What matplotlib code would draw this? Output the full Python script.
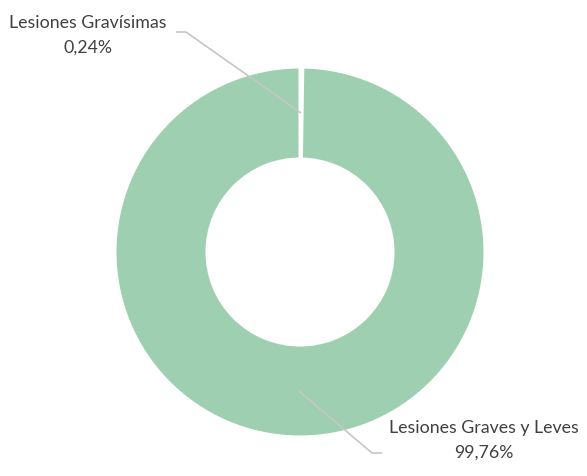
import numpy as np
import matplotlib.pyplot as plt

# data
labels = ["Lesiones Gravísimas", "Lesiones Graves y Leves"]
pct_labels = ["0,24%", "99,76%"]
values = [0.24, 99.76]

W, H = 587, 476
fig = plt.figure(figsize=(W / 100, H / 100), dpi=100)
ax = fig.add_axes([0, 0, 1, 1])

cx, cy = 300, 224
r_out, r_in = 185, 93
green = "#9ECFB0"

wedges, _ = ax.pie(values, center=(cx, cy), radius=r_out, startangle=90,
                   counterclock=False, colors=[green, green],
                   wedgeprops=dict(width=r_out - r_in, edgecolor="white", linewidth=2.2),
                   frame=True)
ax.set_xlim(0, W)
ax.set_ylim(0, H)
ax.set_aspect("equal")
ax.axis("off")

txt_color = "#404040"
line_color = "#C6C6C6"
font = dict(family=["Lato", "DejaVu Sans"], fontsize=12.8, color=txt_color)

# label positions (text centre x, y, elbow end x, elbow x, elbow y)
label_pos = [(88, 441, 176, 186, 444), (484, 36, 382, 372, 23)]

for w, lab, pct, (tx, ty, ex, kx, ky) in zip(wedges, labels, pct_labels, label_pos):
    ang = np.deg2rad((w.theta1 + w.theta2) / 2)
    rm = (r_out + r_in) / 2
    sx, sy = cx + rm * np.cos(ang), cy + rm * np.sin(ang)
    ax.plot([sx, kx, ex], [sy, ky, ky], color=line_color, lw=1.2, solid_capstyle="butt")
    ax.text(tx, ty + 12, lab, ha="center", va="center", **font)
    ax.text(tx, ty - 13, pct, ha="center", va="center", **font)

fig.savefig("out.png", dpi=100, facecolor="white")
